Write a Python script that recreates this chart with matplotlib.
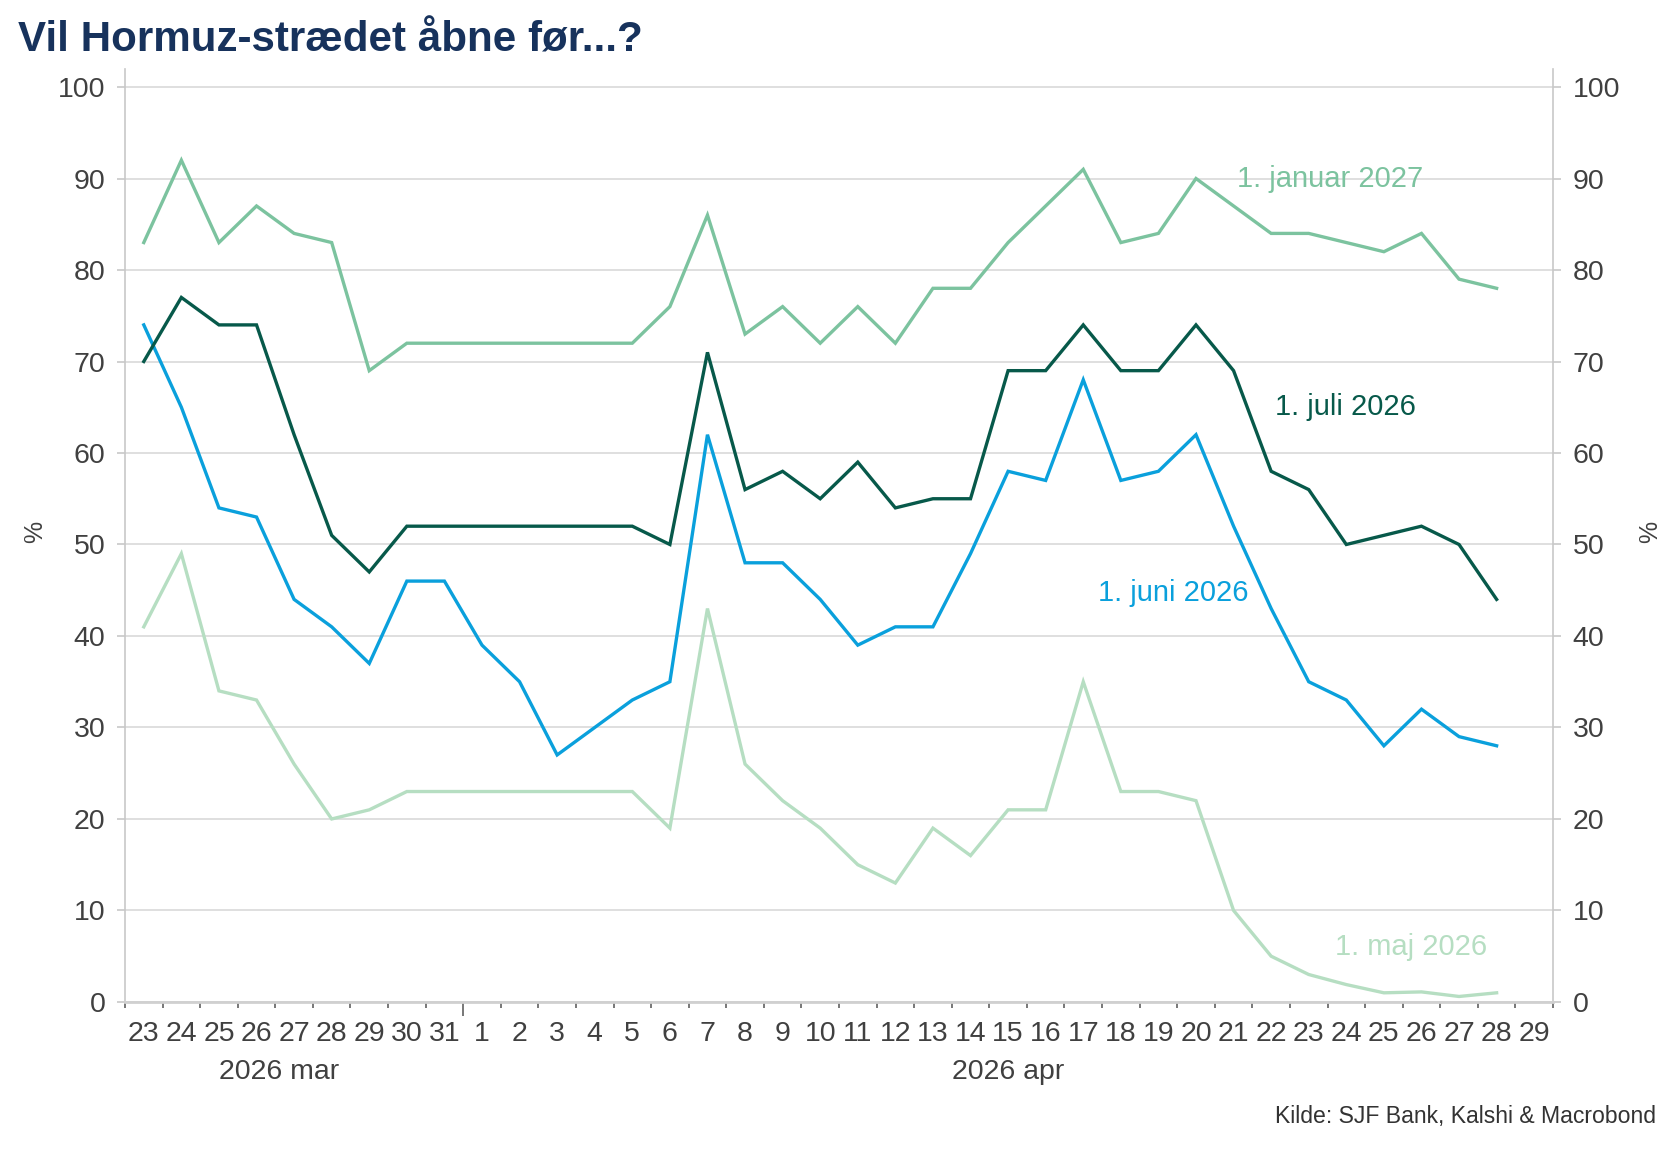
import matplotlib
matplotlib.use("Agg")
import matplotlib.pyplot as plt
import matplotlib.transforms as mtransforms

# one slot per day, 23 Mar - 29 Apr 2026
day_labels = ["23", "24", "25", "26", "27", "28", "29", "30", "31",
              "1", "2", "3", "4", "5", "6", "7", "8", "9", "10",
              "11", "12", "13", "14", "15", "16", "17", "18", "19", "20",
              "21", "22", "23", "24", "25", "26", "27", "28", "29"]
month_labels = ["2026 mar", "2026 apr"]
month_centers = [3.6, 23.0]
month_break = 8.5

# probability (%) that the strait opens before ...  (23 Mar - 28 Apr)
jan_2027 = [83, 92, 83, 87, 84, 83, 69, 72, 72,
            72, 72, 72, 72, 72, 76, 86, 73, 76, 72, 76, 72, 78, 78, 83, 87, 91,
            83, 84, 90, 87, 84, 84, 83, 82, 84, 79, 78]
jul_2026 = [70, 77, 74, 74, 62, 51, 47, 52, 52,
            52, 52, 52, 52, 52, 50, 71, 56, 58, 55, 59, 54, 55, 55, 69, 69, 74,
            69, 69, 74, 69, 58, 56, 50, 51, 52, 50, 44]
jun_2026 = [74, 65, 54, 53, 44, 41, 37, 46, 46,
            39, 35, 27, 30, 33, 35, 62, 48, 48, 44, 39, 41, 41, 49, 58, 57, 68,
            57, 58, 62, 52, 43, 35, 33, 28, 32, 29, 28]
may_2026 = [41, 49, 34, 33, 26, 20, 21, 23, 23,
            23, 23, 23, 23, 23, 19, 43, 26, 22, 19, 15, 13, 19, 16, 21, 21, 35,
            23, 23, 22, 10, 5, 3, 1.9, 1.0, 1.1, 0.6, 1.0]

series_names = ["1. januar 2027", "1. juli 2026", "1. juni 2026", "1. maj 2026"]
series_colors = ["#7cc39f", "#07594a", "#0aa0dc", "#b6dec2"]
label_pos = [(29.1, 89.9), (30.1, 65.0), (25.4, 44.7), (31.7, 6.0)]

plt.rcParams["font.family"] = ["Liberation Sans", "DejaVu Sans"]

text_col = "#404040"
axis_col = "#c8c8c8"

fig = plt.figure(figsize=(16.8, 11.55), dpi=100)
ax = fig.add_axes([0.0744, 0.1325, 0.85, 0.808])

x = list(range(len(jan_2027)))
for vals, col in zip([may_2026, jan_2027, jun_2026, jul_2026],
                     [series_colors[3], series_colors[0], series_colors[2], series_colors[1]]):
    ax.plot(x, vals, color=col, lw=2.4, solid_joinstyle="miter")

for name, col, (lx, ly) in zip(series_names, series_colors, label_pos):
    ax.text(lx, ly, name, color=col, fontsize=21, ha="left", va="center")

ax.set_xlim(-0.5, len(day_labels) - 0.5)
ax.set_ylim(0, 102)

ax.set_yticks(range(0, 101, 10))
ax.yaxis.grid(True, color="#dcdcdc", lw=1.3)
ax.set_axisbelow(True)
ax.tick_params(axis="y", which="major", left=True, right=True, labelleft=True,
               labelright=True, length=6, width=1.2, color=axis_col,
               labelsize=20.5, labelcolor=text_col, pad=8)

# day labels centred in each slot, small ticks at slot boundaries
ax.set_xticks(range(len(day_labels)))
ax.set_xticklabels(day_labels)
ax.tick_params(axis="x", which="major", length=0, labelsize=20.5,
               labelcolor=text_col, pad=14)
bounds = [i - 0.5 for i in range(len(day_labels) + 1) if i - 0.5 != month_break]
ax.set_xticks(bounds, minor=True)
ax.tick_params(axis="x", which="minor", length=4, width=1.2, color="#606060")
sec = ax.secondary_xaxis("bottom")
sec.set_xticks([month_break])
sec.set_xticklabels([""])
sec.tick_params(length=10, width=1.2, color="#606060")
sec.spines["bottom"].set_visible(False)

trans = mtransforms.blended_transform_factory(ax.transData, ax.transAxes)
for lab, cx in zip(month_labels, month_centers):
    ax.text(cx, -0.075, lab, transform=trans, ha="center", va="center",
            fontsize=20.5, color=text_col)

ax.spines["top"].set_visible(False)
for s in ["left", "right"]:
    ax.spines[s].set_color(axis_col)
    ax.spines[s].set_linewidth(1.2)
ax.spines["bottom"].set_color("#d0d0d0")
ax.spines["bottom"].set_linewidth(2)

fig.text(0.0208, 0.5394, "%", rotation=90, ha="center", va="center",
         fontsize=18, color=text_col)
fig.text(0.982, 0.5394, "%", rotation=90, ha="center", va="center",
         fontsize=18, color=text_col)

fig.text(0.0107, 0.965, "Vil Hormuz-strædet åbne før...?", fontsize=30.3,
         fontweight="bold", color="#17325c", ha="left", va="center")
fig.text(0.986, 0.033, "Kilde: SJF Bank, Kalshi & Macrobond", fontsize=16.6,
         color="#333333", ha="right", va="center")

fig.savefig("out.png", dpi=100)
